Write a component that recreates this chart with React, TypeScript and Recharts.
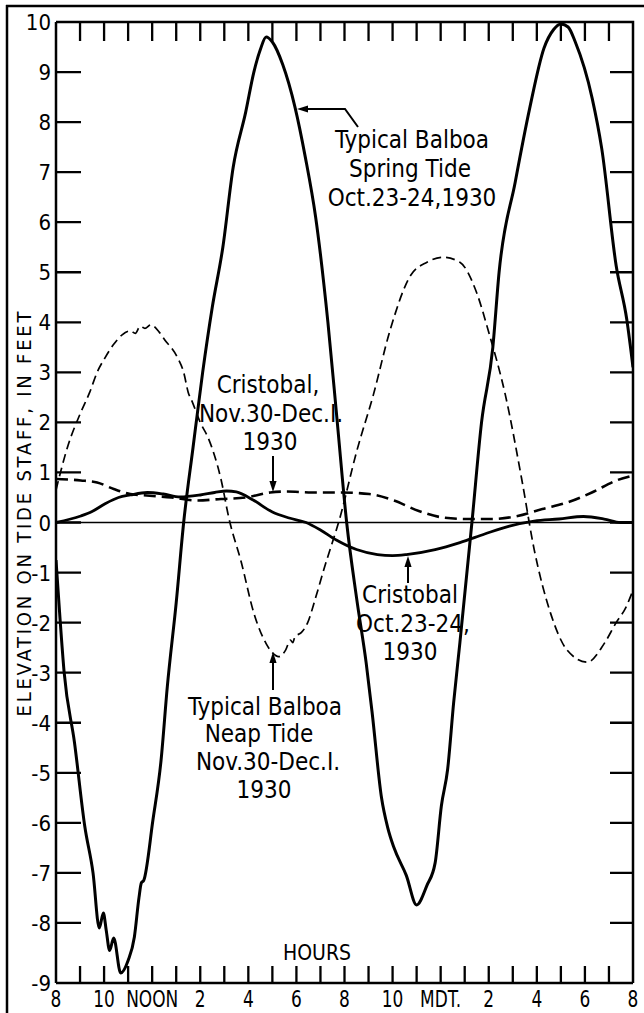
import React from 'react';
import { LineChart, Line, XAxis, YAxis, ReferenceLine } from 'recharts';

// ---- Data (hours after 8 A.M., elevation in feet) ----
const springHours = [0, 0.15, 0.34, 0.77, 1.2, 1.54, 1.8, 1.97, 2.09, 2.23, 2.4, 2.69, 3.0, 3.26, 3.45, 3.55, 3.65, 4.03, 4.37, 4.63, 5.0, 5.31, 5.7, 6.1, 6.5, 6.94, 7.37, 7.89, 8.23, 8.5, 8.74, 9.0, 9.43, 9.94, 10.37, 10.8, 11.31, 11.7, 12.09, 12.5, 12.9, 13.15, 13.54, 13.8, 14.06, 14.57, 15.0, 15.43, 15.77, 16.03, 16.29, 16.54, 16.8, 17.3, 17.7, 18.17, 18.43, 19.1, 19.7, 20.3, 20.7, 21.0, 21.3, 21.6, 22.3, 22.7, 23.3, 23.74, 24];
const springFeet = [-0.75, -1.8, -3.0, -4.4, -6.08, -7.0, -8.1, -7.8, -8.15, -8.55, -8.3, -9.0, -8.75, -8.28, -7.5, -7.2, -7.15, -5.95, -4.75, -3.28, -1.6, 0, 1.5, 3.0, 4.3, 5.5, 7.1, 8.2, 9.0, 9.45, 9.7, 9.6, 9.15, 8.3, 7.3, 6.1, 4.0, 2.0, 0, -1.5, -2.8, -3.8, -5.5, -6.1, -6.5, -7.05, -7.64, -7.25, -6.8, -5.66, -4.93, -3.6, -2.4, 0, 2.0, 3.5, 5.0, 6.8, 8.27, 9.48, 9.85, 9.96, 9.9, 9.6, 8.48, 7.47, 5.13, 4.06, 3.1];

const neapHours = [0, 0.5, 1.03, 1.4, 1.71, 2.05, 2.4, 2.75, 3.09, 3.3, 3.5, 3.7, 3.94, 4.3, 4.6, 4.8, 5.05, 5.31, 5.5, 5.66, 6.0, 6.34, 6.86, 7.2, 7.71, 8.23, 8.74, 9.0, 9.26, 9.55, 9.75, 9.85, 9.94, 10.2, 10.46, 10.8, 11.14, 11.83, 12.5, 13.2, 13.9, 14.74, 15.43, 16.1, 16.8, 17.49, 18.0, 18.69, 19.37, 19.89, 20.57, 21.26, 22.1, 22.8, 23.3, 23.7, 24];
const neapFeet = [0.65, 1.54, 2.2, 2.6, 3.0, 3.3, 3.56, 3.75, 3.83, 3.78, 3.92, 3.88, 3.95, 3.8, 3.6, 3.49, 3.3, 3.0, 2.6, 2.42, 2.0, 1.68, 0.87, 0.07, -0.8, -1.81, -2.42, -2.6, -2.68, -2.55, -2.35, -2.4, -2.28, -2.2, -2.01, -1.5, -0.94, 0.13, 1.41, 2.55, 3.85, 4.93, 5.2, 5.3, 5.2, 4.6, 3.8, 2.55, 0.87, -0.54, -1.81, -2.55, -2.79, -2.42, -2.0, -1.7, -1.35];

const cristNovHours = [0, 1.03, 1.71, 2.4, 3.09, 3.77, 4.8, 5.83, 6.86, 7.89, 8.91, 9.6, 10.63, 11.83, 13.03, 14.06, 15.09, 16.1, 17.14, 18.17, 19.2, 20.23, 21.26, 22.29, 23.31, 24];
const cristNovFeet = [0.87, 0.84, 0.8, 0.67, 0.57, 0.54, 0.5, 0.44, 0.47, 0.5, 0.6, 0.62, 0.6, 0.6, 0.57, 0.44, 0.23, 0.1, 0.07, 0.07, 0.13, 0.27, 0.4, 0.6, 0.84, 0.94];

const cristOctHours = [0, 1.03, 1.5, 2.06, 2.6, 3.09, 3.8, 4.46, 5.16, 6.0, 6.6, 7.1, 7.5, 8.2, 9.0, 9.7, 10.4, 11.0, 11.66, 12.5, 13.37, 14.0, 14.57, 15.77, 16.8, 17.83, 18.86, 19.89, 20.92, 21.94, 22.8, 23.49, 24];
const cristOctFeet = [0, 0.13, 0.22, 0.38, 0.5, 0.55, 0.6, 0.57, 0.51, 0.55, 0.6, 0.63, 0.61, 0.45, 0.21, 0.09, 0, -0.15, -0.35, -0.54, -0.64, -0.66, -0.64, -0.54, -0.4, -0.23, -0.07, 0.03, 0.07, 0.12, 0.07, 0, 0];

// ---- Axis ticks ----
const hourTicks = [0, 2, 4, 6, 8, 10, 12, 14, 16, 18, 20, 22, 24];
const hourLabels = ['8', '10', 'NOON', '2', '4', '6', '8', '10', 'MDT.', '2', '4', '6', '8'];
const innerHourTicks = [1, 2, 3, 4, 5, 6, 7, 8, 9, 10, 11, 12, 13, 14, 15, 16, 17, 18, 19, 20, 21, 22, 23];
const feetTicks = [-9.2, -8, -7, -6, -5, -4, -3, -2, -1, 0, 1, 2, 3, 4, 5, 6, 7, 8, 9, 10];
const feetLabels = ['-9', '-8', '-7', '-6', '-5', '-4', '-3', '-2', '-1', '0', '1', '2', '3', '4', '5', '6', '7', '8', '9', '10'];
const innerFeetTicks = [-8, -7, -6, -5, -4, -3, -2, -1, 0, 1, 2, 3, 4, 5, 6, 7, 8, 9];

const X_MIN = 0, X_MAX = 24, Y_MIN = -9.2, Y_MAX = 10;

// ---- Layout ----
const W = 644, H = 1013;
const M_TOP = 22, M_RIGHT = 11, Y_AXIS_W = 56, X_AXIS_H = 30;
const P_LEFT = Y_AXIS_W, P_RIGHT = W - M_RIGHT, P_TOP = M_TOP, P_BOTTOM = H - X_AXIS_H;
const px = (h: number) => P_LEFT + ((h - X_MIN) / (X_MAX - X_MIN)) * (P_RIGHT - P_LEFT);
const py = (v: number) => P_TOP + ((Y_MAX - v) / (Y_MAX - Y_MIN)) * (P_BOTTOM - P_TOP);

const zip = (h: number[], f: number[]) => h.map((x, i) => ({ h: x, v: f[i] }));
const springData = zip(springHours, springFeet);
const neapData = zip(neapHours, neapFeet);
const cristNovData = zip(cristNovHours, cristNovFeet);
const cristOctData = zip(cristOctHours, cristOctFeet);

const NARROW = "'Liberation Sans Narrow', 'DejaVu Sans Condensed', 'Liberation Sans', sans-serif";
const COND = "'DejaVu Sans Condensed', 'Liberation Sans Narrow', 'Liberation Sans', sans-serif";

const LeftTick = (p: any) => {
  const { x, y, payload } = p;
  const idx = feetTicks.indexOf(payload.value);
  const label = idx >= 0 ? feetLabels[idx] : String(payload.value);
  return (
    <text x={x} y={y + 8} textAnchor="end" fontFamily={NARROW} fontSize={22} fill="#000">{label}</text>
  );
};

const BottomTick = (p: any) => {
  const { x, y, payload } = p;
  const li = hourTicks.indexOf(payload.value);
  if (li < 0) return <g />;
  return (
    <text transform={`translate(${x},${y + 24}) scale(0.82,1)`} textAnchor="middle" fontFamily={NARROW} fontSize={23} fill="#000">{hourLabels[li]}</text>
  );
};

const Arrow = ({ x1, y1, x2, y2 }: { x1: number; y1: number; x2: number; y2: number }) => {
  const ang = Math.atan2(y2 - y1, x2 - x1);
  const L = 11, Wd = 3.6;
  const bx = x2 - L * Math.cos(ang), by = y2 - L * Math.sin(ang);
  const qx = -Math.sin(ang) * Wd, qy = Math.cos(ang) * Wd;
  return (
    <g>
      <line x1={x1} y1={y1} x2={bx} y2={by} stroke="#000" strokeWidth={2} />
      <polygon points={`${x2},${y2} ${bx + qx},${by + qy} ${bx - qx},${by - qy}`} fill="#000" />
    </g>
  );
};

const T = ({ x, y, children, size = 24 }: any) => (
  <text x={x} y={y} textAnchor="middle" fontFamily={COND} fontSize={size} fill="#000">{children}</text>
);

export default function App() {
  return (
    <div style={{ position: 'absolute', left: 0, top: 0, width: W, height: H, background: '#fff' }}>
      <LineChart width={W} height={H} margin={{ top: M_TOP, right: M_RIGHT, bottom: 0, left: 0 }}>
        <XAxis xAxisId="b" dataKey="h" type="number" domain={[X_MIN, X_MAX]} ticks={hourTicks} interval={0}
          orientation="bottom" height={X_AXIS_H} tickSize={0} tickMargin={0} allowDataOverflow
          axisLine={{ stroke: '#000', strokeWidth: 2.5 }} tickLine={false} tick={BottomTick} />
        <YAxis yAxisId="l" type="number" domain={[Y_MIN, Y_MAX]} ticks={feetTicks} interval={0}
          orientation="left" width={Y_AXIS_W} tickSize={0} tickMargin={5} allowDataOverflow
          axisLine={{ stroke: '#000', strokeWidth: 2.5 }} tickLine={false} tick={LeftTick} />
        <ReferenceLine xAxisId="b" yAxisId="l" y={0} stroke="#000" strokeWidth={1.6} />
        <Line xAxisId="b" yAxisId="l" data={springData} dataKey="v" type="monotone" stroke="#000" strokeWidth={3} dot={false} isAnimationActive={false} />
        <Line xAxisId="b" yAxisId="l" data={neapData} dataKey="v" type="monotone" stroke="#000" strokeWidth={1.7} strokeDasharray="9 5" dot={false} isAnimationActive={false} />
        <Line xAxisId="b" yAxisId="l" data={cristNovData} dataKey="v" type="monotone" stroke="#000" strokeWidth={2.6} strokeDasharray="12 6" dot={false} isAnimationActive={false} />
        <Line xAxisId="b" yAxisId="l" data={cristOctData} dataKey="v" type="monotone" stroke="#000" strokeWidth={2.8} dot={false} isAnimationActive={false} />
      </LineChart>
      <svg width={W} height={H} style={{ position: 'absolute', left: 0, top: 0, pointerEvents: 'none' }}>
        {/* outer frame */}
        <line x1={7} y1={5} x2={7} y2={H} stroke="#000" strokeWidth={2.5} />
        <line x1={6} y1={6} x2={W} y2={6} stroke="#000" strokeWidth={2.5} />
        {/* top and right plot borders */}
        <path d={`M${P_LEFT},${P_TOP} H${P_RIGHT} V${P_BOTTOM}`} fill="none" stroke="#000" strokeWidth={2.5} />
        {/* inward tick marks */}
        <path
          d={[
            ...innerFeetTicks.map((v) => `M${P_LEFT},${py(v)} h25 M${P_RIGHT - 23},${py(v)} h23`),
            ...innerHourTicks.map((h) => `M${px(h)},${P_BOTTOM} v-17 M${px(h)},${P_TOP} v19`),
          ].join(' ')}
          fill="none" stroke="#000" strokeWidth={2.3} />

        <text x={0} y={0} transform="translate(31,514) rotate(-90)" textAnchor="middle" fontFamily={NARROW}
          fontSize={20} textLength={405} lengthAdjust="spacing" fill="#000">ELEVATION ON TIDE STAFF, IN FEET</text>
        <text x={317} y={960} textAnchor="middle" fontFamily={NARROW} fontSize={21} fill="#000">HOURS</text>

        <polyline points="358,127 345,109 306,109" fill="none" stroke="#000" strokeWidth={2} />
        <Arrow x1={310} y1={109} x2={297} y2={109} />
        <T x={412} y={148}>Typical Balboa</T>
        <T x={410} y={177}>Spring Tide</T>
        <T x={412} y={206}>Oct.23-24,1930</T>

        <T x={268} y={393}>Cristobal,</T>
        <T x={271} y={422}>Nov.30-Dec.I.</T>
        <T x={270} y={450}>1930</T>
        <Arrow x1={273} y1={456} x2={273} y2={492} />

        <Arrow x1={408} y1={583} x2={408} y2={556} />
        <T x={410} y={603}>Cristobal</T>
        <T x={413} y={632}>Oct.23-24,</T>
        <T x={410} y={660}>1930</T>

        <Arrow x1={273} y1={690} x2={273} y2={652} />
        <T x={265} y={715}>Typical Balboa</T>
        <T x={259} y={742}>Neap Tide</T>
        <T x={268} y={770}>Nov.30-Dec.I.</T>
        <T x={264} y={798}>1930</T>
      </svg>
    </div>
  );
}
